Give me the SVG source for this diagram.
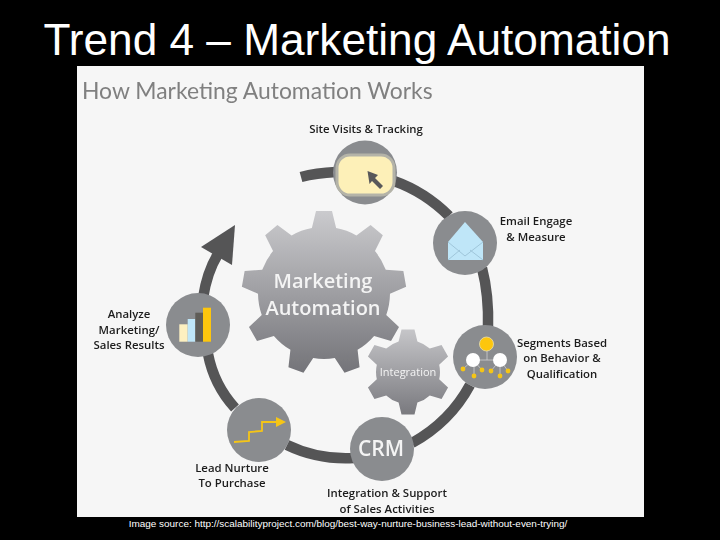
<svg xmlns="http://www.w3.org/2000/svg" width="720" height="540" viewBox="0 0 720 540">
<style>
.lbl{font-family:"Open Sans","Liberation Sans",sans-serif;font-size:11.4px;font-weight:600;fill:#1c1c1c;text-anchor:middle}
.node{fill:#8a8c8f}
.ring{fill:none;stroke:#555557;stroke-width:10.500}
.gt{font-family:"Open Sans","Liberation Sans",sans-serif;fill:#f4f4f4;text-anchor:middle}
.env{fill:none;stroke:#9fc6da;stroke-width:1}
.wire{stroke:#cfcfcf;stroke-width:0.800;fill:none}
.dot{fill:#f5c518}
</style>
<defs>
<filter id="soft" x="0" y="0" width="100%" height="100%" filterUnits="objectBoundingBox"><feGaussianBlur stdDeviation="0.350"/></filter>
<linearGradient id="g1" gradientUnits="userSpaceOnUse" x1="0" y1="210" x2="0" y2="376">
<stop offset="0" stop-color="#cbcbce"/><stop offset="1" stop-color="#727277"/>
</linearGradient>
<linearGradient id="g2" gradientUnits="userSpaceOnUse" x1="0" y1="329" x2="0" y2="415">
<stop offset="0" stop-color="#c6c6c9"/><stop offset="1" stop-color="#79797e"/>
</linearGradient>
<clipPath id="c1">
<circle cx="324" cy="293" r="66"/>
<path d="M309 240L316 211H332L339 240Z"/>
<path d="M309 240L316 211H332L339 240Z" transform="rotate(40 324 293)"/>
<path d="M309 240L316 211H332L339 240Z" transform="rotate(80 324 293)"/>
<path d="M309 240L316 211H332L339 240Z" transform="rotate(120 324 293)"/>
<path d="M309 240L316 211H332L339 240Z" transform="rotate(160 324 293)"/>
<path d="M309 240L316 211H332L339 240Z" transform="rotate(200 324 293)"/>
<path d="M309 240L316 211H332L339 240Z" transform="rotate(240 324 293)"/>
<path d="M309 240L316 211H332L339 240Z" transform="rotate(280 324 293)"/>
<path d="M309 240L316 211H332L339 240Z" transform="rotate(320 324 293)"/>
</clipPath>
<clipPath id="c2">
<circle cx="408" cy="372" r="32"/>
<path d="M396.500 350L401.500 329.500H414.500L419.500 350Z"/>
<path d="M396.500 350L401.500 329.500H414.500L419.500 350Z" transform="rotate(60 408 372)"/>
<path d="M396.500 350L401.500 329.500H414.500L419.500 350Z" transform="rotate(120 408 372)"/>
<path d="M396.500 350L401.500 329.500H414.500L419.500 350Z" transform="rotate(180 408 372)"/>
<path d="M396.500 350L401.500 329.500H414.500L419.500 350Z" transform="rotate(240 408 372)"/>
<path d="M396.500 350L401.500 329.500H414.500L419.500 350Z" transform="rotate(300 408 372)"/>
</clipPath>
</defs>
<rect width="720" height="540" fill="#000"/>
<text x="357" y="55" font-family="Liberation Sans,sans-serif" font-size="44.200" fill="#fff" text-anchor="middle">Trend 4 – Marketing Automation</text>
<rect x="77" y="66" width="567" height="451" fill="#f6f6f6"/>
<text x="348" y="527" font-family="Liberation Sans,sans-serif" font-size="9.950" fill="#fff" text-anchor="middle">Image source: http://scalabilityproject.com/blog/best-way-nurture-business-lead-without-even-trying/</text>

<g filter="url(#soft)">
<rect x="77" y="66" width="567" height="451" fill="#f6f6f6"/>
<text x="82" y="99" font-family="Lato,sans-serif" font-size="22.900" font-weight="400" fill="#808080">How Marketing Automation Works</text>

<g id="connectors">
<path class="ring" d="M301 177Q316 173 336 172"/>
<path class="ring" d="M394 181Q425 192 449 216"/>
<path class="ring" d="M482 268Q489 295 488 328"/>
<path class="ring" d="M470 385Q450 422 412 443"/>
<path class="ring" d="M287 445Q318 460 354 458"/>
<path class="ring" d="M235 408Q214 385 208 354"/>
<path class="ring" d="M203 298Q207 272 218 254"/>
<path d="M235 225L201 247L232 265Z" fill="#555557"/>
</g>

<g id="gear-main">
<rect x="235" y="205" width="180" height="175" fill="url(#g1)" clip-path="url(#c1)"/>
<text class="gt" x="323" y="288" font-size="20" font-weight="600">Marketing</text>
<text class="gt" x="323" y="315" font-size="20" font-weight="600">Automation</text>
</g>
<g id="gear-integration">
<rect x="360" y="325" width="96" height="95" fill="url(#g2)" clip-path="url(#c2)"/>
<text class="gt" x="408" y="376" font-size="11">Integration</text>
</g>

<g id="node-site">
<circle class="node" cx="365" cy="172.500" r="32"/>
<rect x="337" y="155" width="57" height="40" rx="13" fill="#fdf0b8" stroke="#b4b3a8" stroke-width="3"/>
<path d="M367.500 171L378 175L375 178L383 186L380 189L372 181L369.500 184Z" fill="#58585a"/>
<text class="lbl" x="366" y="133">Site Visits &amp; Tracking</text>
</g>
<g id="node-email">
<circle class="node" cx="465" cy="243" r="32"/>
<path d="M448 242L465 222L483 242V260H448Z" fill="#bfe6f8"/>
<path class="env" d="M448 242L465 256L483 242M448 260L460 250M483 260L470 250"/>
<text class="lbl" x="536" y="225">Email Engage</text>
<text class="lbl" x="536" y="241">&amp; Measure</text>
</g>
<g id="node-segments">
<circle class="node" cx="485" cy="357" r="32"/>
<path class="wire" d="M487 344V360M473 360H500M473 360L463 369M474 360V376M473 360L482 370M500 360L491 371M500 360V376M500 360L508 371"/>
<circle cx="486.500" cy="344" r="7" fill="#fdc60a" stroke="#e8e0b0" stroke-width="0.800"/>
<circle cx="473" cy="360" r="7" fill="#fff"/>
<circle cx="500" cy="360" r="7" fill="#fff"/>
<circle class="dot" cx="463" cy="369" r="2.400"/>
<circle class="dot" cx="474" cy="376" r="2.400"/>
<circle class="dot" cx="482" cy="370" r="2.400"/>
<circle class="dot" cx="491" cy="371" r="2.400"/>
<circle class="dot" cx="500" cy="376" r="2.400"/>
<circle class="dot" cx="508" cy="371" r="2.400"/>
<text class="lbl" x="562" y="347">Segments Based</text>
<text class="lbl" x="562" y="362">on Behavior &amp;</text>
<text class="lbl" x="562" y="378">Qualification</text>
</g>
<g id="node-crm">
<circle class="node" cx="382" cy="449" r="32"/>
<text x="381" y="456" font-family="Open Sans,sans-serif" font-size="21" font-weight="600" fill="#f4f4f4" text-anchor="middle">CRM</text>
<text class="lbl" x="387" y="497">Integration &amp; Support</text>
<text class="lbl" x="387" y="513">of Sales Activities</text>
</g>
<g id="node-lead">
<circle class="node" cx="259" cy="430" r="32"/>
<path d="M234 442L249 441V432L262 431V422H277" fill="none" stroke="#f5c518" stroke-width="1.800"/>
<path d="M286 422L276 417V427Z" fill="#f5c518"/>
<text class="lbl" x="232" y="472">Lead Nurture</text>
<text class="lbl" x="232" y="487">To Purchase</text>
</g>
<g id="node-analyze">
<circle class="node" cx="198" cy="325" r="32"/>
<rect x="179.300" y="324.300" width="8.400" height="17.400" fill="#fdf0c0"/>
<rect x="187.700" y="319" width="7.600" height="22.700" fill="#bfe6f8"/>
<rect x="195.300" y="312.700" width="7.700" height="29" fill="#5f5d58"/>
<rect x="203" y="307.700" width="8" height="34" fill="#fdc60a"/>
<text class="lbl" x="129" y="318">Analyze</text>
<text class="lbl" x="129" y="334">Marketing/</text>
<text class="lbl" x="129" y="349">Sales Results</text>
</g>
</g>
</svg>
